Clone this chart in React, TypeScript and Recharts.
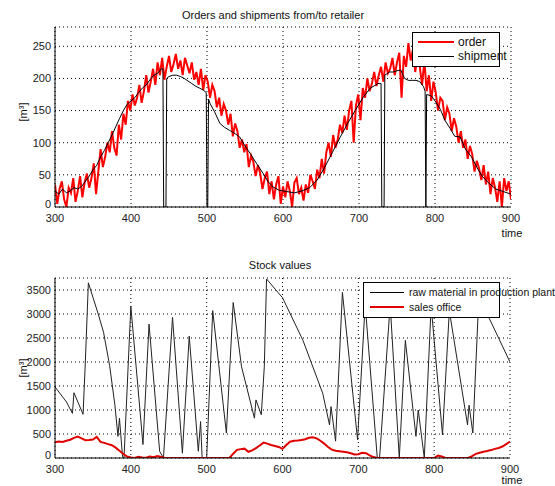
import { LineChart, Line, XAxis, YAxis, CartesianGrid, Legend } from "recharts";

const FONT = '"Liberation Sans", Arial, sans-serif';

// orders, sampled every 3 time units from 300 to 900
const ORDER_T0 = 300;
const ORDER_STEP = 3;
const order = [
  35, 5, 28, 40, 12, 0, 30, 22, 45, 8,
  25, 48, 15, 38, 52, 30, 45, 68, 20, 55,
  90, 62, 78, 100, 85, 118, 92, 80, 128, 105,
  145, 128, 165, 150, 175, 158, 170, 190, 162, 180,
  205, 178, 195, 215, 190, 225, 205, 232, 198, 218,
  235, 210, 222, 238, 215, 228, 205, 232, 220, 208,
  225, 198, 210, 190, 215, 182, 205, 195, 170, 190,
  180, 155, 170, 142, 160, 150, 128, 145, 110, 130,
  118, 92, 105, 85, 98, 62, 80, 70, 48, 65,
  52, 28, 45, 55, 20, 40, 12, 35, 48, 5,
  32, 15, 40, 25, 0, 38, 45, 20, 30, 10,
  35, 22, 50, 40, 28, 58, 45, 75, 52, 85,
  100, 78, 112, 92, 105, 128, 115, 142, 120, 150,
  165, 100, 158, 175, 135, 185, 170, 200, 180, 192,
  210, 188, 205, 218, 195, 225, 208, 215, 232, 205,
  225, 240, 170, 235, 218, 255, 228, 245, 210, 238,
  218, 190, 228, 180, 205, 165, 195, 178, 150, 170,
  165, 135, 155, 145, 118, 138, 125, 100, 118, 92,
  105, 75, 95, 82, 55, 72, 60, 42, 65, 35,
  55, 20, 45, 30, 8, 40, 0, 45, 25, 40,
  12,
];

// shipments, read at the break points of the black line
const shipTime = [
  300, 305, 310, 315, 320, 325, 330, 335, 340, 345, 350, 355, 360, 365, 370,
  375, 380, 385, 390, 395, 400, 405, 410, 415, 420, 425, 430, 435, 440, 442,
  443, 446, 447, 450, 455, 460, 465, 470, 475, 480, 485, 490, 495, 499, 500,
  501, 502, 504, 510, 517, 523, 530, 537, 543, 550, 557, 565, 574, 580, 587,
  595, 605, 615, 625, 635, 645, 655, 665, 675, 685, 695, 705, 715, 725, 729,
  730, 733, 734, 740, 745, 750, 755, 760, 765, 770, 775, 780, 785, 787, 788,
  789, 795, 800, 807, 813, 820, 826, 833, 840, 848, 855, 862, 870, 880, 890,
  900,
];
const shipment = [
  25, 20, 28, 22, 25, 30, 28, 32, 40, 48, 58, 65, 78, 88, 100,
  112, 125, 138, 150, 160, 165, 170, 178, 185, 190, 198, 205, 208, 215, 215,
  0, 0, 200, 203, 205, 205, 203, 200, 196, 192, 188, 185, 182, 178, 0,
  0, 168, 161, 148, 130, 124, 119, 114, 109, 95, 83, 68, 52, 40, 31,
  26, 24, 22, 25, 30, 42, 62, 85, 108, 130, 150, 170, 185, 192, 192,
  0, 0, 205, 210, 210, 212, 213, 200, 197, 197, 197, 195, 187, 180, 0,
  175, 173, 165, 152, 135, 122, 110, 109, 90, 78, 62, 48, 38, 28, 24,
  20,
];

// raw material stock in production plant (break points)
const rawTime = [
  300, 315, 323, 325, 337, 340, 344, 357, 364, 372,
  379, 383, 385, 389, 390, 391, 400, 416, 424, 438,
  443, 455, 468, 477, 489, 492, 494, 500, 508, 526,
  535, 546, 563, 565, 572, 576, 579, 594, 600, 627,
  653, 662, 664, 670, 679, 699, 709, 725, 728, 742,
  754, 762, 776, 779, 787, 796, 811, 820, 844, 846,
  851, 859, 872, 900,
];
const rawMaterial = [
  1480, 1170, 930, 1360, 910, 2000, 3650, 3000, 2620, 1930,
  1100, 450, 830, 40, 0, 0, 3160, 280, 2790, 140,
  0, 2930, 100, 2540, 140, 760, 0, 0, 3070, 520,
  3240, 1900, 830, 1210, 900, 1900, 3730, 3450, 3340, 2450,
  1350, 690, 1070, 350, 3450, 380, 3200, 0, 0, 3200,
  0, 2450, 450, 1000, 0, 3170, 480, 3070, 690, 1100,
  520, 3380, 2930, 2000,
];

// sales office stock, every 5 time units from 300 to 900
const SALES_T0 = 300;
const SALES_STEP = 5;
const salesOffice = [
  330, 345, 335, 360, 380, 420, 445, 410, 370, 375,
  385, 440, 335, 315, 290, 265, 215, 150, 90, 30,
  10, 0, 25, 10, 5, 30, 15, 40, 20, 0,
  0, 0, 0, 0, 0, 0, 0, 0, 0, 0,
  0, 0, 0, 0, 0, 0, 0, 90, 170, 185,
  195, 130, 160, 205, 260, 320, 300, 270, 250, 230,
  190, 270, 340, 360, 365, 375, 390, 420, 430, 410,
  360, 300, 230, 175, 150, 140, 130, 120, 100, 75,
  80, 110, 100, 55, 20, 0, 0, 0, 0, 0,
  0, 0, 0, 0, 0, 0, 0, 0, 0, 0,
  0, 50, 30, 0, 0, 0, 0, 0, 0, 0,
  40, 85, 110, 130, 145, 165, 190, 210, 240, 290,
  340,
];

const timeTicks = [300, 400, 500, 600, 700, 800, 900];
const topTicks = [0, 50, 100, 150, 200, 250];
const bottomTicks = [0, 500, 1000, 1500, 2000, 2500, 3000, 3500];

const orderData = order.map((v, i) => ({ t: ORDER_T0 + i * ORDER_STEP, v }));
const shipData = shipTime.map((t, i) => ({ t, v: shipment[i] }));
const rawData = rawTime.map((t, i) => ({ t, v: rawMaterial[i] }));
const salesData = salesOffice.map((v, i) => ({ t: SALES_T0 + i * SALES_STEP, v }));

const tickStyle = { fontSize: 11, fill: "#222", fontFamily: FONT };

// y tick: the "0" is lifted a little so it clears the "300" below it
const YTick = ({ x, y, payload }: any) => (
  <text
    x={x}
    y={payload.value === 0 ? y - 3 : y}
    dy="0.355em"
    textAnchor="end"
    fontSize={11}
    fill="#222"
    fontFamily={FONT}
  >
    {payload.value}
  </text>
);

const Txt = ({ x, y, size = 11, rotate = false, children }: any) => (
  <div
    style={{
      position: "absolute",
      left: x,
      top: y,
      transform: `translate(-50%, -50%)${rotate ? " rotate(-90deg)" : ""}`,
      fontFamily: FONT,
      fontSize: size,
      color: "#111",
      whiteSpace: "nowrap",
    }}
  >
    {children}
  </div>
);

const LegendRow = ({ y, color, width, sx, ex, tx, label }: any) => (
  <>
    <div
      style={{
        position: "absolute",
        left: sx,
        top: y - width / 2,
        width: ex - sx,
        height: width,
        background: color,
      }}
    />
    <div
      style={{
        position: "absolute",
        left: tx,
        top: y,
        transform: "translateY(-50%)",
        whiteSpace: "nowrap",
        lineHeight: 1,
      }}
    >
      {label}
    </div>
  </>
);

const TopLegend = () => (
  <div
    style={{
      position: "relative",
      width: 86,
      height: 33,
      border: "1px solid #000",
      background: "#fff",
      fontFamily: FONT,
      fontSize: 12,
      color: "#111",
    }}
  >
    <LegendRow y={9} color="#ff0000" width={2} sx={5} ex={41} tx={45} label="order" />
    <LegendRow y={23} color="#000" width={1} sx={5} ex={41} tx={45} label="shipment" />
  </div>
);

const BottomLegend = () => (
  <div
    style={{
      position: "relative",
      width: 135,
      height: 34,
      border: "1px solid #000",
      background: "#fff",
      fontFamily: FONT,
      fontSize: 10.5,
      color: "#111",
    }}
  >
    <LegendRow y={9} color="#000" width={1} sx={6} ex={40} tx={45} label="raw material in production plant" />
    <LegendRow y={24} color="#e00000" width={2} sx={6} ex={40} tx={45} label="sales office" />
  </div>
);

export default function App() {
  return (
    <div
      style={{
        position: "absolute",
        left: 0,
        top: 0,
        width: 555,
        height: 486,
        background: "#fff",
        overflow: "hidden",
      }}
    >
      <div style={{ position: "absolute", left: 0, top: 0 }}>
        <LineChart width={555} height={240} margin={{ top: 27, right: 44, bottom: 13, left: 5 }}>
          <CartesianGrid stroke="#000" strokeDasharray="1 3" />
          <XAxis
            type="number"
            dataKey="t"
            domain={[300, 900]}
            ticks={timeTicks}
            allowDataOverflow
            height={20}
            tickSize={0}
            tickMargin={7}
            tick={tickStyle}
            stroke="#000"
          />
          <YAxis
            type="number"
            domain={[0, 280]}
            ticks={topTicks}
            allowDataOverflow
            width={50}
            tickSize={0}
            tickMargin={4}
            tick={<YTick />}
            stroke="#000"
          />
          <Line
            data={orderData}
            dataKey="v"
            stroke="#ff0000"
            strokeWidth={2}
            dot={false}
            isAnimationActive={false}
          />
          <Line
            data={shipData}
            dataKey="v"
            stroke="#000"
            strokeWidth={1}
            dot={false}
            isAnimationActive={false}
          />
          <Legend
            layout="vertical"
            align="center"
            verticalAlign="middle"
            content={() => <TopLegend />}
            wrapperStyle={{ position: "absolute", left: 412, top: 32, width: 88 }}
          />
        </LineChart>
      </div>

      <div style={{ position: "absolute", left: 0, top: 250 }}>
        <LineChart width={555} height={236} margin={{ top: 28, right: 45, bottom: 8, left: 5 }}>
          <CartesianGrid stroke="#000" strokeDasharray="1 3" />
          <XAxis
            type="number"
            dataKey="t"
            domain={[300, 900]}
            ticks={timeTicks}
            allowDataOverflow
            height={20}
            tickSize={0}
            tickMargin={7}
            tick={tickStyle}
            stroke="#000"
          />
          <YAxis
            type="number"
            domain={[0, 3750]}
            ticks={bottomTicks}
            allowDataOverflow
            width={50}
            tickSize={0}
            tickMargin={4}
            tick={<YTick />}
            stroke="#000"
          />
          <Line
            data={rawData}
            dataKey="v"
            stroke="#222"
            strokeWidth={1}
            dot={false}
            isAnimationActive={false}
          />
          <Line
            data={salesData}
            dataKey="v"
            stroke="#e00000"
            strokeWidth={2}
            dot={false}
            isAnimationActive={false}
          />
          <Legend
            layout="vertical"
            align="center"
            verticalAlign="middle"
            content={() => <BottomLegend />}
            wrapperStyle={{ position: "absolute", left: 363, top: 32, width: 137 }}
          />
        </LineChart>
      </div>

      <Txt x={273} y={15}>Orders and shipments from/to retailer</Txt>
      <Txt x={280} y={265}>Stock values</Txt>
      <Txt x={512} y={233}>time</Txt>
      <Txt x={512} y={480}>time</Txt>
      <Txt x={23} y={112} rotate>[m³]</Txt>
      <Txt x={23} y={368} rotate>[m³]</Txt>
    </div>
  );
}
